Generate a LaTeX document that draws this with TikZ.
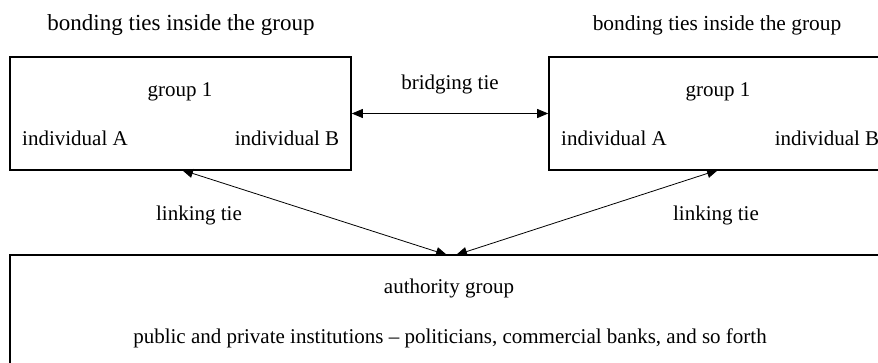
\documentclass[tikz,border=0pt]{standalone}
\usepackage{fontspec}
\setmainfont{Liberation Serif}
\usetikzlibrary{arrows.meta}
\begin{document}
\begin{tikzpicture}[x=1pt,y=-1pt,
  box/.style={draw,line width=1.6pt,inner sep=0pt},
  lbl/.style={font=\fontsize{21}{25}\selectfont,inner sep=0pt,anchor=base},
  tietwo/.style={line width=0.8pt,{Triangle[length=11pt,width=9pt]}-{Triangle[length=11pt,width=9pt]}}]
\useasboundingbox (0,0) rectangle (878,362);
\clip (0,0) rectangle (878,362);
% boxes
\node[box,minimum width=341pt,minimum height=113pt] (g1) at (180.5,113.5) {};
\node[box,minimum width=351pt,minimum height=113pt] (g2) at (724.5,113.5) {};
\node[box,minimum width=890pt,minimum height=145pt] (auth) at (455,327.5) {};
% titles
\node[lbl,font=\fontsize{23}{27}\selectfont] (t1) at (181,30) {bonding ties inside the group};
\node[lbl,font=\fontsize{21.4}{25}\selectfont] (t2) at (717,30) {bonding ties inside the group};
% group 1 texts
\node[lbl] (g1n) at (180,96) {group 1};
\node[lbl] (g1a) at (75,145) {individual A};
\node[lbl] (g1b) at (287,145) {individual B};
\node[lbl] (g2n) at (718,96) {group 1};
\node[lbl] (g2a) at (614,145) {individual A};
\node[lbl] (g2b) at (827,145) {individual B};
% authority
\node[lbl] (an) at (449,293) {authority group};
\node[lbl] (ad) at (450,343) {public and private institutions – politicians, commercial banks, and so forth};
% ties
\draw[tietwo] (g1.east) -- node[lbl,above=24pt,anchor=base] (bt) {bridging tie} (g2.west);
\coordinate (l1) at (182,170);
\coordinate (l2) at (718,170);
\coordinate (a1) at (447,255);
\coordinate (a2) at (456,255);
\draw[tietwo] (l1) -- (a1);
\draw[tietwo] (l2) -- (a2);
\node[lbl] (lt1) at (199,220) {linking tie};
\node[lbl] (lt2) at (716,220) {linking tie};
\end{tikzpicture}
\end{document}
